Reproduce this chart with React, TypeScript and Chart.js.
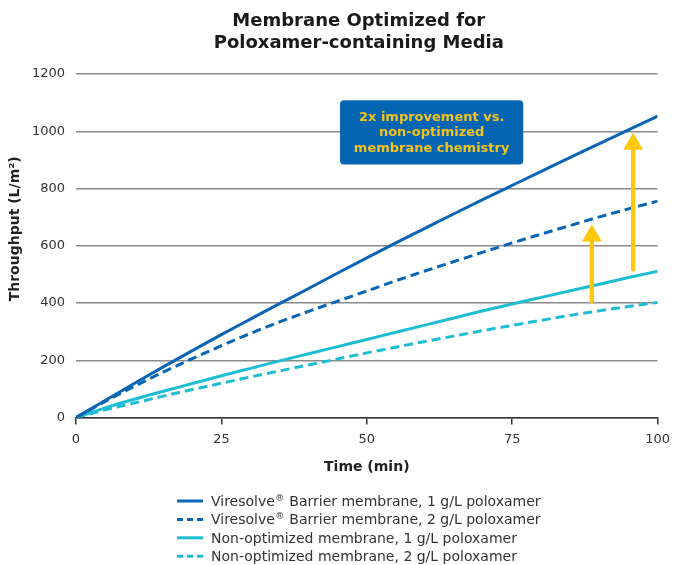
import React, { useEffect, useRef } from 'react';
import { Chart, registerables } from 'chart.js';

Chart.register(...registerables);

// ---------------- data ----------------
const TITLE_LINES = ['Membrane Optimized for', 'Poloxamer-containing Media'];
const X_TITLE = 'Time (min)';
const Y_TITLE = 'Throughput (L/m²)';

const TIME = [0, 5, 10, 15, 20, 25, 30, 35, 40, 45, 50, 55, 60, 65, 70, 75, 80, 85, 90, 95, 100];
const BARRIER_1G = [0, 60, 119, 177, 234, 290, 344, 398, 451, 505, 558, 610, 661, 712, 762, 811, 860, 909, 957, 1005, 1053];
const BARRIER_2G = [0, 56, 109, 159, 206, 251, 294, 334, 371, 407, 442, 478, 512, 545, 578, 610, 641, 671, 701, 729, 756];
const NONOPT_1G = [0, 34, 64, 92, 119, 146, 172, 198, 223, 248, 273, 298, 323, 348, 373, 397, 420, 443, 466, 489, 511];
const NONOPT_2G = [0, 27, 51, 75, 98, 120, 142, 163, 184, 205, 226, 246, 266, 285, 304, 322, 340, 357, 373, 388, 402];

const SERIES_LABELS = [
  'Viresolve® Barrier membrane, 1 g/L poloxamer',
  'Viresolve® Barrier membrane, 2 g/L poloxamer',
  'Non-optimized membrane, 1 g/L poloxamer',
  'Non-optimized membrane, 2 g/L poloxamer',
];

const X_TICKS = [0, 25, 50, 75, 100];
const Y_TICKS = [0, 200, 400, 600, 800, 1000, 1200];

const ANNOT_LINES = ['2x improvement vs.', 'non-optimized', 'membrane chemistry'];
// annotation box in data units: [xMin, xMax, yMin, yMax]
const ANNOT_BOX = [45.4, 76.9, 884, 1108];
// arrows in data units
const ARROW_X = [88.7, 95.8];
const ARROW_FROM = [406, 517];
const ARROW_TO = [674, 995];

// ---------------- style ----------------
const FONT = '"DejaVu Sans", Verdana, sans-serif';
const DARK_BLUE = '#0A66B4';
const CYAN = '#1DBDD3';
const BOX_BLUE = '#0565B2';
const YELLOW = '#FFC709';
const ANNOT_TEXT = '#F2C31B';

const COLORS = [DARK_BLUE, DARK_BLUE, CYAN, CYAN];
const DASHES = [[], [9, 5], [], [9, 5]];
const SERIES = [BARRIER_1G, BARRIER_2G, NONOPT_1G, NONOPT_2G];

const overlayPlugin = {
  id: 'overlay',
  afterDatasetsDraw(chart: any) {
    const { ctx, scales } = chart;
    const x = scales.x;
    const y = scales.y;
    ctx.save();
    // arrows
    ARROW_X.forEach((ax, i) => {
      const px = x.getPixelForValue(ax);
      const yb = y.getPixelForValue(ARROW_FROM[i]);
      const yt = y.getPixelForValue(ARROW_TO[i]);
      const head = 17;
      ctx.strokeStyle = YELLOW;
      ctx.lineWidth = 4.3;
      ctx.lineCap = 'round';
      ctx.beginPath();
      ctx.moveTo(px, yb);
      ctx.lineTo(px, yt + head - 1);
      ctx.stroke();
      ctx.fillStyle = YELLOW;
      ctx.beginPath();
      ctx.moveTo(px, yt);
      ctx.lineTo(px - 10, yt + head);
      ctx.lineTo(px + 10, yt + head);
      ctx.closePath();
      ctx.fill();
    });
    // annotation box
    const bx1 = x.getPixelForValue(ANNOT_BOX[0]);
    const bx2 = x.getPixelForValue(ANNOT_BOX[1]);
    const by1 = y.getPixelForValue(ANNOT_BOX[3]);
    const by2 = y.getPixelForValue(ANNOT_BOX[2]);
    ctx.fillStyle = BOX_BLUE;
    ctx.beginPath();
    if (ctx.roundRect) ctx.roundRect(bx1, by1, bx2 - bx1, by2 - by1, 4);
    else ctx.rect(bx1, by1, bx2 - bx1, by2 - by1);
    ctx.fill();
    ctx.fillStyle = ANNOT_TEXT;
    ctx.font = `bold 13px ${FONT}`;
    ctx.textAlign = 'center';
    ctx.textBaseline = 'middle';
    const cx = (bx1 + bx2) / 2;
    const cy = (by1 + by2) / 2;
    ANNOT_LINES.forEach((t, i) => {
      ctx.fillText(t, cx, cy + (i - 1) * 15.5 + 0.5);
    });
    ctx.restore();
  },
  afterDraw(chart: any) {
    const { ctx, chartArea } = chart;
    ctx.save();
    // title
    ctx.fillStyle = '#1a1a1a';
    ctx.font = `bold 18px ${FONT}`;
    ctx.textAlign = 'center';
    ctx.textBaseline = 'alphabetic';
    const tcx = (chartArea.left + chartArea.right) / 2 - 8;
    TITLE_LINES.forEach((t, i) => ctx.fillText(t, tcx, 26 + i * 22));

    // y axis title
    ctx.save();
    ctx.translate(15, chartArea.top + (chartArea.bottom - chartArea.top) / 2 - 17);
    ctx.rotate(-Math.PI / 2);
    ctx.font = `bold 14px ${FONT}`;
    ctx.fillStyle = '#222';
    ctx.textAlign = 'center';
    ctx.textBaseline = 'middle';
    ctx.fillText(Y_TITLE, 0, 0);
    ctx.restore();

    // legend
    const lx = 177;
    const ly0 = 501;
    const dy = 18.4;
    SERIES_LABELS.forEach((label, i) => {
      const ly = ly0 + i * dy;
      ctx.strokeStyle = COLORS[i];
      ctx.lineWidth = 3;
      ctx.setLineDash(DASHES[i].length ? [6, 4] : []);
      ctx.beginPath();
      ctx.moveTo(lx, ly);
      ctx.lineTo(lx + 26, ly);
      ctx.stroke();
      ctx.setLineDash([]);
      ctx.fillStyle = '#333';
      ctx.textAlign = 'left';
      ctx.textBaseline = 'alphabetic';
      let tx = lx + 34;
      const parts = label.split('®');
      parts.forEach((p, j) => {
        ctx.font = `14px ${FONT}`;
        ctx.fillText(p, tx, ly + 5);
        tx += ctx.measureText(p).width;
        if (j < parts.length - 1) {
          ctx.font = `9px ${FONT}`;
          ctx.fillText('®', tx + 0.5, ly - 0.5);
          tx += ctx.measureText('®').width + 1;
        }
      });
    });
    ctx.restore();
  },
};

export default function App() {
  const ref = useRef<HTMLCanvasElement | null>(null);

  useEffect(() => {
    if (!ref.current) return;
    const datasets = SERIES.map((vals, i) => ({
      label: SERIES_LABELS[i],
      data: TIME.map((t, k) => ({ x: t, y: vals[k] })),
      borderColor: COLORS[i],
      backgroundColor: COLORS[i],
      borderWidth: 3,
      borderDash: DASHES[i],
      pointRadius: 0,
      cubicInterpolationMode: 'monotone' as const,
      fill: false,
    }));

    const chart = new Chart(ref.current, {
      type: 'line',
      data: { datasets },
      options: {
        animation: false,
        responsive: false,
        devicePixelRatio: 1,
        layout: { padding: { top: 74, right: 10, bottom: 89, left: 0 } },
        plugins: {
          legend: { display: false },
          title: { display: false },
          tooltip: { enabled: false },
        },
        scales: {
          x: {
            type: 'linear',
            min: 0,
            max: 100,
            afterBuildTicks: (s: any) => {
              s.ticks = X_TICKS.map((v) => ({ value: v }));
            },
            border: { display: true, color: '#333', width: 1.5 },
            grid: { drawOnChartArea: false, drawTicks: true, tickLength: 7, color: '#333', lineWidth: 1.5 },
            ticks: {
              padding: 7,
              color: '#333',
              font: { family: FONT, size: 13 },
              maxRotation: 0,
              callback: (v: any) => String(v),
            },
            title: {
              display: true,
              text: X_TITLE,
              color: '#222',
              font: { family: FONT, size: 14, weight: 'bold' },
              padding: { top: 5, bottom: 0 },
            },
          },
          y: {
            min: 0,
            max: 1200,
            afterBuildTicks: (s: any) => {
              s.ticks = Y_TICKS.map((v) => ({ value: v }));
            },
            afterFit: (s: any) => {
              s.width = 76;
            },
            border: { display: false },
            grid: { drawTicks: false, tickLength: 0, color: '#8a8a8a', lineWidth: 1.5 },
            ticks: {
              padding: 11,
              color: '#333',
              font: { family: FONT, size: 13 },
              callback: (v: any) => String(v),
            },
          },
        },
      },
      plugins: [overlayPlugin],
    });
    return () => chart.destroy();
  }, []);

  return (
    <div
      style={{
        position: 'fixed',
        left: 0,
        top: 0,
        width: 673,
        height: 565,
        overflow: 'hidden',
        background: '#fff',
      }}
    >
      <canvas ref={ref} width={677} height={565} style={{ display: 'block' }} />
    </div>
  );
}
